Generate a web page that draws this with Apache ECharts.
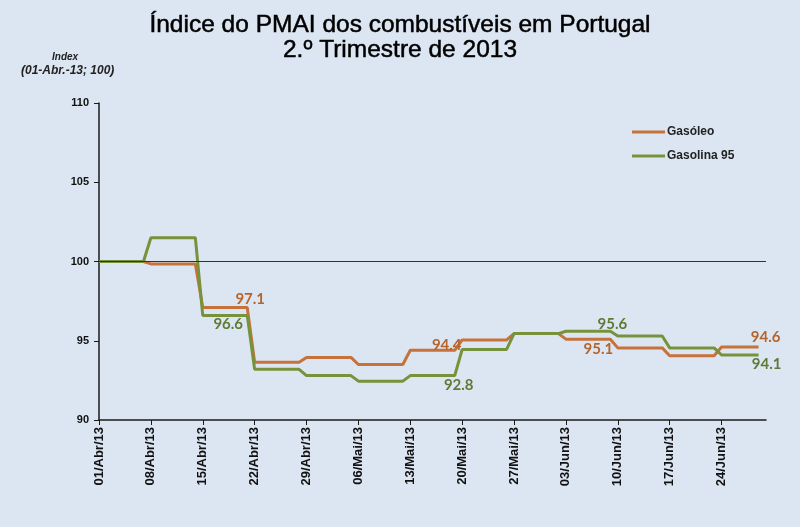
<!DOCTYPE html>
<html>
<head>
<meta charset="utf-8">
<script src="https://cdn.jsdelivr.net/npm/echarts@6/dist/echarts.min.js"></script>
<style>
html,body{margin:0;padding:0;background:#DCE6F2;}
#chart{width:800px;height:527px;}
</style>
</head>
<body>
<div id="chart"></div>
<script>
// ---- Data (daily, 01/Abr/13 .. 29/Jun/13) ----
var gasoleo = [
  100, 100, 100, 100, 100, 100, 100,
  99.85, 99.85, 99.85, 99.85, 99.85, 99.85, 99.85,
  97.1, 97.1, 97.1, 97.1, 97.1, 97.1, 97.1,
  93.65, 93.65, 93.65, 93.65, 93.65, 93.65, 93.65,
  93.95, 93.95, 93.95, 93.95, 93.95, 93.95, 93.95,
  93.5, 93.5, 93.5, 93.5, 93.5, 93.5, 93.5,
  94.4, 94.4, 94.4, 94.4, 94.4, 94.4, 94.4,
  95.05, 95.05, 95.05, 95.05, 95.05, 95.05, 95.05,
  95.45, 95.45, 95.45, 95.45, 95.45, 95.45, 95.45,
  95.1, 95.1, 95.1, 95.1, 95.1, 95.1, 95.1,
  94.55, 94.55, 94.55, 94.55, 94.55, 94.55, 94.55,
  94.05, 94.05, 94.05, 94.05, 94.05, 94.05, 94.05,
  94.6, 94.6, 94.6, 94.6, 94.6, 94.6
];
var gasolina95 = [
  100, 100, 100, 100, 100, 100, 100,
  101.5, 101.5, 101.5, 101.5, 101.5, 101.5, 101.5,
  96.6, 96.6, 96.6, 96.6, 96.6, 96.6, 96.6,
  93.2, 93.2, 93.2, 93.2, 93.2, 93.2, 93.2,
  92.8, 92.8, 92.8, 92.8, 92.8, 92.8, 92.8,
  92.45, 92.45, 92.45, 92.45, 92.45, 92.45, 92.45,
  92.8, 92.8, 92.8, 92.8, 92.8, 92.8, 92.8,
  94.45, 94.45, 94.45, 94.45, 94.45, 94.45, 94.45,
  95.45, 95.45, 95.45, 95.45, 95.45, 95.45, 95.45,
  95.6, 95.6, 95.6, 95.6, 95.6, 95.6, 95.6,
  95.3, 95.3, 95.3, 95.3, 95.3, 95.3, 95.3,
  94.55, 94.55, 94.55, 94.55, 94.55, 94.55, 94.55,
  94.1, 94.1, 94.1, 94.1, 94.1, 94.1
];
var tickLabels = ['01/Abr/13','08/Abr/13','15/Abr/13','22/Abr/13','29/Abr/13','06/Mai/13',
  '13/Mai/13','20/Mai/13','27/Mai/13','03/Jun/13','10/Jun/13','17/Jun/13','24/Jun/13'];
var months = [['Abr', 30], ['Mai', 31], ['Jun', 30]];
var seriesNames = ['Gasóleo', 'Gasolina 95'];
var yTicks = [90, 95, 100, 105, 110];
var referenceValue = 100;

// Labelled points: index, position, x offset, distance
var gasoleoLabels = [[20, 'top', 3, 1], [48, 'top', -8, -2], [69, 'bottom', -12, 2], [89, 'top', 7, 2]];
var gasolinaLabels = [[20, 'bottom', -19, 1], [48, 'bottom', 4, 2], [69, 'top', 2, 0], [89, 'bottom', 8, 2]];

// categories: every day of the quarter
var categories = [];
months.forEach(function (m) {
  for (var d = 1; d <= m[1]; d++) {
    categories.push((d < 10 ? '0' : '') + d + '/' + m[0] + '/13');
  }
});

function buildData(values, labels, color) {
  return values.map(function (v, i) {
    var l = labels.filter(function (x) { return x[0] === i; })[0];
    if (!l) return v;
    return {
      value: v,
      label: {
        show: true, position: l[1], offset: [l[2], 0], distance: l[3],
        color: color, fontFamily: 'Lato', fontWeight: 'bold', fontSize: 15,
        formatter: function (p) { return p.value.toFixed(1); }
      }
    };
  });
}

var orange = '#C6723A';
var green = '#76933C';
var axisFont = 'Liberation Sans, Arial, sans-serif';

var chart = echarts.init(document.getElementById('chart'), null, { renderer: 'canvas' });
chart.setOption({
  backgroundColor: '#DCE6F2',
  animation: false,
  title: {
    text: 'Índice do PMAI dos combustíveis em Portugal\n2.º Trimestre de 2013',
    left: 'center', top: 8,
    textStyle: {
      fontFamily: axisFont,
      fontSize: 24.5, fontWeight: 'normal', color: '#000', lineHeight: 25,
      textBorderColor: '#000', textBorderWidth: 0.5
    }
  },
  graphic: [
    { type: 'text', left: 52, top: 52, style: { text: 'Index', font: 'italic bold 10px "Liberation Sans", Arial', fill: '#222' } },
    { type: 'text', left: 21, top: 65, style: { text: '(01-Abr.-13; 100)', font: 'italic bold 12px "Liberation Sans", Arial', fill: '#222' } }
  ],
  legend: {
    orient: 'vertical', left: 627, top: 121, itemGap: 12,
    itemWidth: 33, itemHeight: 3, icon: 'rect',
    textStyle: { fontFamily: axisFont, fontSize: 12, fontWeight: 'bold', color: '#222', padding: [0, 0, 0, -3] },
    data: seriesNames
  },
  grid: { left: 99, right: 34, top: 103, bottom: 107, containLabel: false },
  xAxis: {
    type: 'category', data: categories, boundaryGap: false,
    axisLine: { lineStyle: { color: '#1a1a1a', width: 1.5 } },
    axisTick: { interval: 6, length: 5, lineStyle: { color: '#1a1a1a' } },
    axisLabel: {
      interval: 6, rotate: 90, margin: 7,
      fontFamily: axisFont, fontSize: 13, fontWeight: 'bold', color: '#111',
      formatter: function (v, i) { return tickLabels[i / 7] || v; }
    },
    splitLine: { show: false }
  },
  yAxis: {
    type: 'value', min: yTicks[0], max: yTicks[yTicks.length - 1], interval: 5,
    axisLine: { show: true, lineStyle: { color: '#1a1a1a', width: 1.5 } },
    axisTick: { show: true, length: 5, lineStyle: { color: '#1a1a1a' } },
    axisLabel: { margin: 10, fontFamily: axisFont, fontSize: 11, fontWeight: 'bold', color: '#111' },
    splitLine: { show: false }
  },
  series: [
    {
      name: seriesNames[0], type: 'line', data: buildData(gasoleo, gasoleoLabels, '#B5652C'),
      symbol: 'circle', symbolSize: 0, showSymbol: true, showAllSymbol: true,
      lineStyle: { color: orange, width: 3 }, itemStyle: { color: orange },
      z: 3,
      markLine: {
        silent: true, symbol: 'none', label: { show: false },
        lineStyle: { color: '#333', width: 1.2, type: 'solid' },
        data: [{ yAxis: referenceValue }]
      }
    },
    {
      name: seriesNames[1], type: 'line', data: buildData(gasolina95, gasolinaLabels, '#5E7A36'),
      symbol: 'circle', symbolSize: 0, showSymbol: true, showAllSymbol: true,
      lineStyle: { color: green, width: 3 }, itemStyle: { color: green },
      z: 4
    }
  ]
});
</script>
</body>
</html>
